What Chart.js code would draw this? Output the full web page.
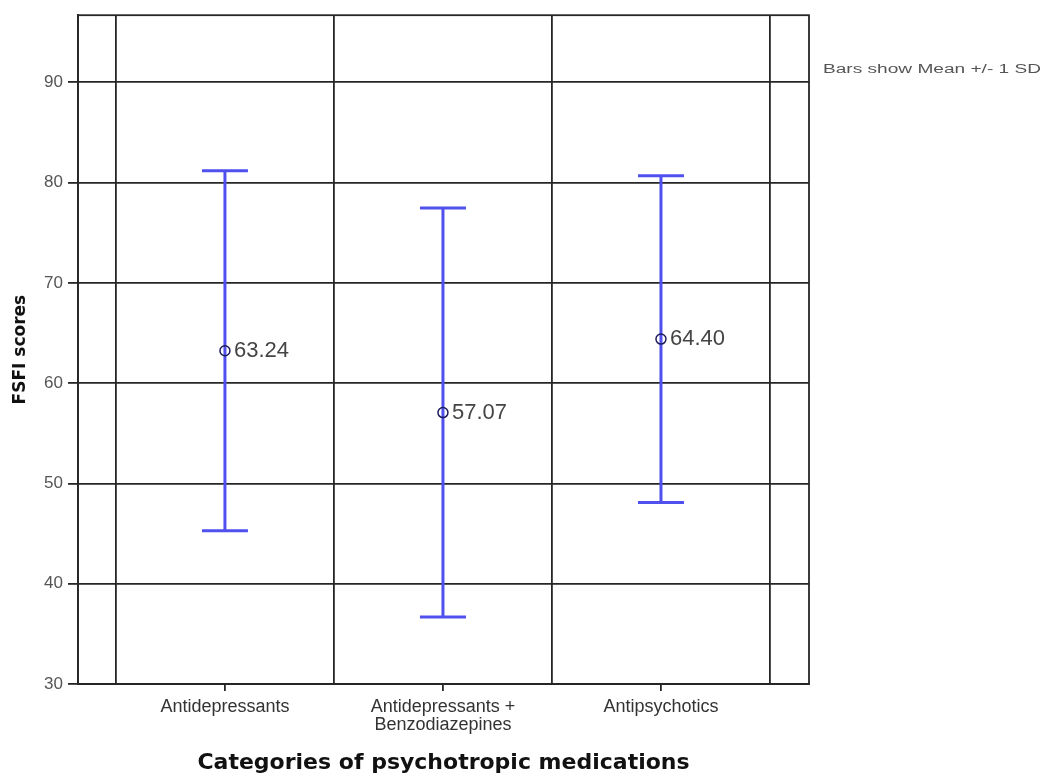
<!DOCTYPE html>
<html lang="en">
<head>
    <meta charset="UTF-8">
    <title>FSFI scores by psychotropic medication</title>
    <script src="https://cdn.jsdelivr.net/npm/chart.js"></script>
    <style>
        body {
            margin: 0;
            background: #fff;
        }
        #chartContainer {
            width: 1044px;
            height: 778px;
        }
    </style>
</head>
<body>
    <div id="chartContainer">
        <canvas id="fsfiChart"></canvas>
    </div>

    <script>
        // Data
        const categories = ['Antidepressants', 'Antidepressants + Benzodiazepines', 'Antipsychotics'];
        const means = [63.24, 57.07, 64.40];
        const sds = [17.95, 20.40, 16.30];
        const yTicks = [30, 40, 50, 60, 70, 80, 90];
        const xTicks = [0.5, 1, 1.5, 2, 2.5, 3, 3.5]; // halves carry the grid lines

        const barColor = '#5050ee';
        const gridColor = '#262626';

        // Mean +/- 1 SD whiskers, drawn under the mean markers
        const errorBars = {
            id: 'errorBars',
            beforeDatasetsDraw(chart) {
                const { ctx, scales: { x, y } } = chart;
                ctx.save();
                ctx.strokeStyle = barColor;
                ctx.lineWidth = 3;
                means.forEach((m, i) => {
                    const px = x.getPixelForValue(i + 1);
                    const top = y.getPixelForValue(m + sds[i]);
                    const bot = y.getPixelForValue(m - sds[i]);
                    ctx.beginPath();
                    ctx.moveTo(px, top);
                    ctx.lineTo(px, bot);
                    ctx.moveTo(px - 23, top);
                    ctx.lineTo(px + 23, top);
                    ctx.moveTo(px - 23, bot);
                    ctx.lineTo(px + 23, bot);
                    ctx.stroke();
                });
                ctx.restore();
            },
            afterDatasetsDraw(chart) {
                const { ctx, scales: { x, y }, chartArea } = chart;
                ctx.save();
                // frame on top and right
                ctx.strokeStyle = gridColor;
                ctx.lineWidth = 1.8;
                ctx.strokeRect(chartArea.left, chartArea.top, chartArea.right - chartArea.left, chartArea.bottom - chartArea.top);

                // mean value labels
                ctx.fillStyle = '#444';
                ctx.font = '22px "Liberation Sans", Arial, sans-serif';
                ctx.textBaseline = 'middle';
                ctx.textAlign = 'left';
                means.forEach((m, i) => {
                    ctx.fillText(m.toFixed(2), x.getPixelForValue(i + 1) + 9, y.getPixelForValue(m));
                });

                // note at the right
                ctx.font = '12px "Liberation Sans", Arial, sans-serif';
                ctx.fillStyle = '#555';
                const note = 'Bars show Mean +/- 1 SD';
                const w = ctx.measureText(note).width;
                ctx.translate(chartArea.right + 14, chartArea.top + 54);
                ctx.scale(218 / w, 1);
                ctx.fillText(note, 0, 0);
                ctx.restore();
            }
        };

        const ctx = document.getElementById('fsfiChart').getContext('2d');

        const fsfiChart = new Chart(ctx, {
            type: 'scatter',
            data: {
                datasets: [{
                    label: 'Mean',
                    data: means.map((m, i) => ({ x: i + 1, y: m })),
                    pointRadius: 5,
                    pointHoverRadius: 5,
                    borderColor: '#1c1c5a',
                    borderWidth: 1.5,
                    backgroundColor: 'rgba(0,0,0,0)'
                }]
            },
            options: {
                responsive: true,
                maintainAspectRatio: false,
                animation: false,
                layout: {
                    padding: { left: 0, right: 235, top: 14, bottom: 1 }
                },
                plugins: {
                    legend: { display: false },
                    tooltip: { enabled: false }
                },
                scales: {
                    x: {
                        type: 'linear',
                        min: 0.326,
                        max: 3.679,
                        afterBuildTicks(scale) {
                            scale.ticks = xTicks.map(v => ({ value: v }));
                        },
                        afterFit(scale) {
                            scale.height = 93;
                        },
                        border: { color: gridColor, width: 1.8 },
                        grid: {
                            color: c => Number.isInteger(c.tick.value) ? 'rgba(0,0,0,0)' : gridColor,
                            tickColor: c => Number.isInteger(c.tick.value) ? gridColor : 'rgba(0,0,0,0)',
                            lineWidth: 1.8,
                            tickLength: 7
                        },
                        ticks: {
                            autoSkip: false,
                            maxRotation: 0,
                            minRotation: 0,
                            padding: 7,
                            color: '#333',
                            font: { family: '"Liberation Sans", Arial, sans-serif', size: 18, lineHeight: 1.0 },
                            callback: value => Number.isInteger(value)
                                ? categories[value - 1].replace(' + ', ' +\n').split('\n')
                                : ''
                        },
                        title: {
                            display: true,
                            text: 'Categories of psychotropic medications',
                            color: '#111',
                            font: { family: '"DejaVu Sans", sans-serif', size: 22, weight: 'bold' },
                            padding: { top: 0, bottom: 1 }
                        }
                    },
                    y: {
                        min: 30,
                        max: 96.7,
                        afterBuildTicks(scale) {
                            scale.ticks = yTicks.map(v => ({ value: v }));
                        },
                        afterFit(scale) {
                            scale.width = 78;
                        },
                        border: { color: gridColor, width: 1.8 },
                        grid: {
                            color: gridColor,
                            lineWidth: 1.8,
                            tickLength: 10
                        },
                        ticks: {
                            padding: 5,
                            color: '#555',
                            font: { family: '"Liberation Sans", Arial, sans-serif', size: 17 }
                        },
                        title: {
                            display: true,
                            text: 'FSFI scores',
                            color: '#111',
                            font: { family: '"DejaVu Sans", sans-serif', size: 17, weight: 'bold' },
                            padding: { top: 10, bottom: 0 }
                        }
                    }
                }
            },
            plugins: [errorBars]
        });
    </script>
</body>
</html>
